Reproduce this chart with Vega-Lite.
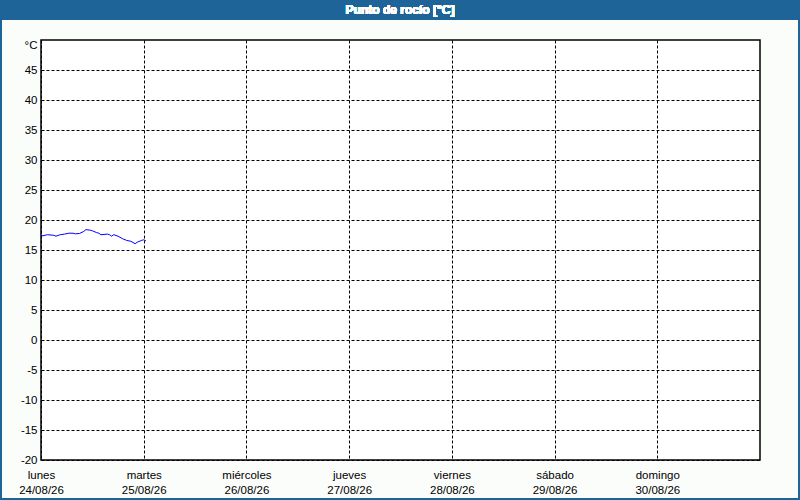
{
  "$schema": "https://vega.github.io/schema/vega-lite/v6.json",
  "width": 719,
  "height": 420,
  "autosize": {"type": "none"},
  "padding": {"left": 41, "top": 40, "right": 40, "bottom": 40},
  "background": "#fbfdfb",
  "data": {
    "values": [
      {"time": "2026-08-24T00:00", "dewpoint": 17.3},
      {"time": "2026-08-24T01:30", "dewpoint": 17.55},
      {"time": "2026-08-24T03:00", "dewpoint": 17.45},
      {"time": "2026-08-24T03:30", "dewpoint": 17.3},
      {"time": "2026-08-24T04:30", "dewpoint": 17.55},
      {"time": "2026-08-24T05:30", "dewpoint": 17.65},
      {"time": "2026-08-24T06:30", "dewpoint": 17.8},
      {"time": "2026-08-24T07:30", "dewpoint": 17.8},
      {"time": "2026-08-24T08:00", "dewpoint": 17.7},
      {"time": "2026-08-24T09:00", "dewpoint": 17.75},
      {"time": "2026-08-24T10:00", "dewpoint": 18.1},
      {"time": "2026-08-24T10:30", "dewpoint": 18.4},
      {"time": "2026-08-24T11:30", "dewpoint": 18.3},
      {"time": "2026-08-24T12:00", "dewpoint": 18.2},
      {"time": "2026-08-24T13:00", "dewpoint": 17.9},
      {"time": "2026-08-24T13:30", "dewpoint": 17.8},
      {"time": "2026-08-24T14:00", "dewpoint": 17.55},
      {"time": "2026-08-24T15:30", "dewpoint": 17.65},
      {"time": "2026-08-24T16:00", "dewpoint": 17.55},
      {"time": "2026-08-24T16:30", "dewpoint": 17.3},
      {"time": "2026-08-24T17:00", "dewpoint": 17.55},
      {"time": "2026-08-24T18:00", "dewpoint": 17.3},
      {"time": "2026-08-24T19:00", "dewpoint": 16.9},
      {"time": "2026-08-24T20:00", "dewpoint": 16.6},
      {"time": "2026-08-24T21:00", "dewpoint": 16.45},
      {"time": "2026-08-24T22:00", "dewpoint": 16.05},
      {"time": "2026-08-24T22:30", "dewpoint": 16.3},
      {"time": "2026-08-24T23:30", "dewpoint": 16.6},
      {"time": "2026-08-25T00:00", "dewpoint": 16.7},
      {"time": "2026-08-25T00:30", "dewpoint": 16.55}
    ]
  },
  "layer": [
    {
      "mark": {"type": "rect", "fill": "#1f6498", "strokeWidth": 0, "clip": false},
      "encoding": {
        "x": {"value": -41},
        "x2": {"value": 759},
        "y": {"value": -40},
        "y2": {"value": -20}
      }
    },
    {
      "mark": {"type": "rect", "fill": null, "stroke": "#1f6498", "strokeWidth": 1.5, "clip": false},
      "encoding": {
        "x": {"value": -40.5},
        "x2": {"value": 758.5},
        "y": {"value": -40},
        "y2": {"value": 459.5}
      }
    },
    {
      "mark": {
        "type": "text",
        "text": "Punto de rocío [°C]",
        "fill": "#ffffff",
        "strokeOpacity": 0,
        "strokeWidth": 0,
        "font": "Liberation Sans",
        "fontSize": 12,
        "fontWeight": "bold",
        "align": "center",
        "baseline": "middle",
        "clip": false
      },
      "encoding": {
        "x": {"value": 359},
        "y": {"value": -30}
      }
    },
    {
      "mark": {"type": "line", "color": "#0000ff", "strokeWidth": 1, "interpolate": "linear"},
      "encoding": {
        "x": {
          "field": "time",
          "type": "temporal",
          "scale": {
            "domain": [
              {"year": 2026, "month": 8, "date": 24},
              {"year": 2026, "month": 8, "date": 31}
            ],
            "nice": false
          },
          "axis": {
            "title": null,
            "values": [
              {"year": 2026, "month": 8, "date": 24},
              {"year": 2026, "month": 8, "date": 25},
              {"year": 2026, "month": 8, "date": 26},
              {"year": 2026, "month": 8, "date": 27},
              {"year": 2026, "month": 8, "date": 28},
              {"year": 2026, "month": 8, "date": 29},
              {"year": 2026, "month": 8, "date": 30}
            ],
            "labelExpr": "[['domingo','lunes','martes','miércoles','jueves','viernes','sábado'][day(datum.value)], timeFormat(datum.value, '%d/%m/%y')]",
            "labelPadding": 9,
            "labelLineHeight": 15,
            "labelFlush": false,
            "labelOverlap": false
          }
        },
        "y": {
          "field": "dewpoint",
          "type": "quantitative",
          "scale": {"domain": [-20, 50], "nice": false, "zero": false},
          "axis": {
            "values": [-20, -15, -10, -5, 0, 5, 10, 15, 20, 25, 30, 35, 40, 45],
            "labelExpr": "'' + datum.value",
            "title": "°C",
            "titleAngle": 0,
            "titleAlign": "right",
            "titleBaseline": "middle",
            "titleX": -4,
            "titleY": 5,
            "titleFontWeight": "normal",
            "titleFont": "Liberation Sans",
            "titleFontSize": 11.5,
            "titleColor": "black",
            "labelPadding": 4,
            "labelFlush": false,
            "labelOverlap": false
          }
        }
      }
    }
  ],
  "config": {
    "view": {"stroke": "black", "strokeWidth": 1.5, "fill": "white"},
    "axis": {
      "domain": false,
      "ticks": false,
      "grid": true,
      "gridColor": "black",
      "gridOpacity": 1,
      "gridDash": [3, 2],
      "gridWidth": 1,
      "labelFont": "Liberation Sans",
      "labelFontSize": 11.5,
      "labelColor": "black"
    }
  }
}
